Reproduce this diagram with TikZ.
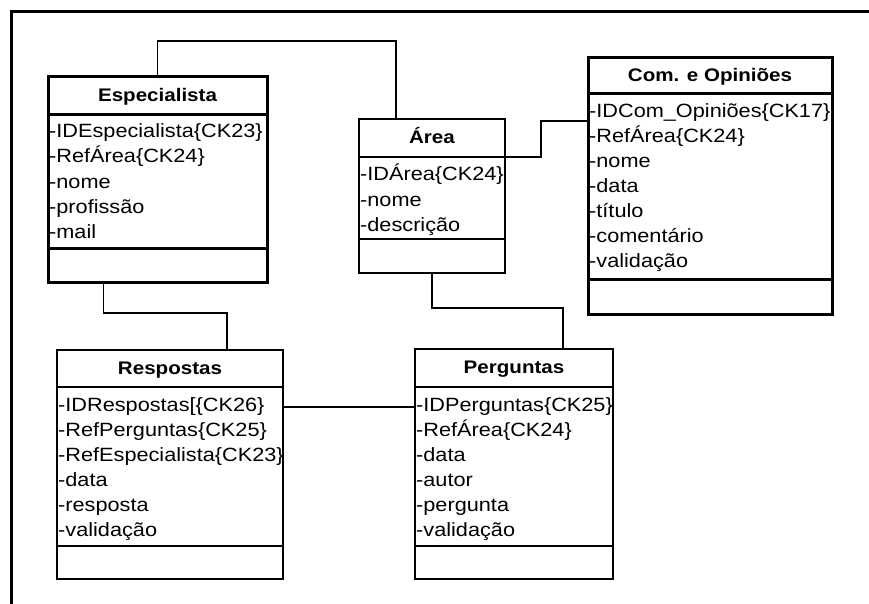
\documentclass[tikz,border=0pt]{standalone}
\usepackage{fontspec}
\setmainfont[FakeStretch=1.13]{Liberation Sans}

\tikzset{
  heavy/.style={line width=3pt},
  light/.style={line width=1.6pt},
  frameline/.style={line width=3pt},
  link/.style={line width=1.5pt},
  classtitle/.style={font=\fontsize{18.2}{25}\selectfont\bfseries, anchor=base, inner sep=0pt},
  attr/.style={font=\fontsize{19.2}{25}\selectfont, anchor=base west, inner sep=0pt},
}

% class box: name, weight, x1, y1, x2, y2, header line y, attribute end y, title
\newcommand\umlclass[9]{%
  \node[draw, #2, inner sep=0pt, outer sep=0pt,
        minimum width={(#5-#3)*1pt}, minimum height={(#6-#4)*1pt}]
        (#1) at ({(#3+#5)/2},{(#4+#6)/2}) {};
  \draw[#2] (#3,#7) -- (#5,#7);
  \draw[#2] (#3,#8) -- (#5,#8);
  \node[classtitle] (#1-title) at ({(#3+#5)/2},{(#4+#7)/2+5.5}) {#9};
}

% attribute list: name, left x, first baseline y, entries
\newcommand\umlattrs[4]{%
  \foreach \t [count=\i from 0] in {#4} {
    \node[attr] (#1-a\i) at (#2+1, #3+25*\i) {\t};
  }
}

\begin{document}
\begin{tikzpicture}[x=1pt, y=-1pt]
  \useasboundingbox (0,0) rectangle (869,604);

  % outer frame (top and left edges)
  \coordinate (frame-tl) at (11,12);
  \coordinate (frame-tr) at (869,12);
  \coordinate (frame-bl) at (11,604);
  \draw[frameline] (frame-tr) -- (frame-tl) -- (frame-bl);

  % classes
  \umlclass{esp}{heavy}{48}{77}{267}{282}{115}{248}{Especialista}
  \umlattrs{esp}{48}{138}{-IDEspecialista\{CK23\},-RefÁrea\{CK24\},-nome,-profissão,-mail}

  \umlclass{area}{light}{359}{119}{505}{273}{157}{239}{Área}
  \umlattrs{area}{359}{181}{-IDÁrea\{CK24\},-nome,-descrição}

  \umlclass{com}{heavy}{588}{58}{832}{314}{94}{279}{Com. e Opiniões}
  \umlattrs{com}{588}{117.5}{-IDCom\_Opiniões\{CK17\},-RefÁrea\{CK24\},-nome,-data,-título,-comentário,-validação}

  \umlclass{resp}{light}{57}{350}{283}{579}{387}{546}{Respostas}
  \umlattrs{resp}{57}{411}{-IDRespostas[\{CK26\},-RefPerguntas\{CK25\},-RefEspecialista\{CK23\},-data,-resposta,-validação}

  \umlclass{perg}{light}{415}{349}{613}{579}{387}{546}{Perguntas}
  \umlattrs{perg}{415}{411}{-IDPerguntas\{CK25\},-RefÁrea\{CK24\},-data,-autor,-pergunta,-validação}

  % associations
  \draw[link] (esp.north) -- ++(0,-36) -| ([xshift=-36pt]area.north);

  \coordinate (area-h) at ([yshift=-38pt]area.north east);
  \coordinate (com-in) at ([yshift=-63pt]com.north west);
  \draw[link] (area-h) -- ++(36,0) |- (com-in);

  \draw[link] (area.south) -- ++(0,35) -| ([xshift=49pt]perg.north);

  \draw[link] ([xshift=-54pt]esp.south) -- ++(0,31) -| ([xshift=57pt]resp.north);

  \coordinate (resp-out) at ([yshift=-57pt]resp.north east);
  \draw[link] (resp-out) -- (resp-out -| perg.west);
\end{tikzpicture}
\end{document}
